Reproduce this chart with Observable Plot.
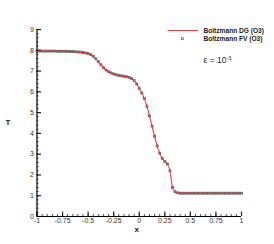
<!DOCTYPE html>
<html><head><meta charset="utf-8">
<script src="https://cdn.jsdelivr.net/npm/d3@7"></script>
<script src="https://cdn.jsdelivr.net/npm/@observablehq/plot@0.6"></script>
<style>body{margin:0;background:#fff;font-family:"Liberation Sans",Arial,sans-serif}</style>
</head><body><div id="chart"></div>
<script>
const xGrid = [-1,-0.975,-0.95,-0.925,-0.9,-0.875,-0.85,-0.825,-0.8,-0.775,-0.75,-0.725,-0.7,-0.675,-0.65,-0.625,-0.6,-0.575,-0.55,-0.525,-0.5,-0.475,-0.45,-0.425,-0.4,-0.375,-0.35,-0.325,-0.3,-0.275,-0.25,-0.225,-0.2,-0.175,-0.15,-0.125,-0.1,-0.075,-0.05,-0.025,0,0.025,0.05,0.075,0.1,0.125,0.15,0.175,0.2,0.225,0.25,0.275,0.3,0.325,0.35,0.375,0.4,0.425,0.45,0.475,0.5,0.525,0.55,0.575,0.6,0.625,0.65,0.675,0.7,0.725,0.75,0.775,0.8,0.825,0.85,0.875,0.9,0.925,0.95,0.975,1];
const tFV = [7.96,7.96,7.96,7.96,7.96,7.96,7.96,7.96,7.95,7.95,7.95,7.95,7.95,7.94,7.94,7.93,7.92,7.91,7.89,7.87,7.84,7.79,7.71,7.59,7.45,7.30,7.16,7.05,6.97,6.91,6.86,6.82,6.79,6.77,6.75,6.73,6.70,6.64,6.54,6.38,6.16,5.94,5.68,5.30,4.84,4.35,3.86,3.40,3.05,2.80,2.65,2.53,2.20,1.40,1.19,1.14,1.12,1.12,1.12,1.12,1.12,1.12,1.12,1.12,1.12,1.12,1.12,1.12,1.12,1.12,1.12,1.12,1.12,1.12,1.12,1.12,1.12,1.12,1.12,1.12,1.12];
const tDG = tFV.slice();
const xTicks = [-1,-0.75,-0.5,-0.25,0,0.25,0.5,0.75,1];
const xTickLabels = ["-1","-0.75","-0.5","-0.25","0","0.25","0.5","0.75","1"];
const yTicks = [0,1,2,3,4,5,6,7,8,9];
const xMinor = d3.range(-1, 1.0001, 0.05).map(v => +v.toFixed(3));
const yMinor = d3.range(0, 9.0001, 0.2).map(v => +v.toFixed(2));
const seriesNames = ["Boltzmann DG (O3)", "Boltzmann FV (O3)"];

const fv = xGrid.map((x, i) => ({x, t: tFV[i]}));
const dg = xGrid.map((x, i) => ({x, t: tDG[i]}));

const plot = Plot.plot({
  width: 274, height: 244,
  marginLeft: 36.5, marginRight: 33, marginTop: 29, marginBottom: 28,
  style: {fontFamily: "Liberation Sans, Arial, sans-serif", fontSize: "7px", color: "#222"},
  x: {domain: [-1, 1]},
  y: {domain: [0, 9]},
  marks: [
    Plot.axisX(xMinor, {tickSize: -2, text: null, label: null, strokeWidth: 0.8}),
    Plot.axisX(xTicks, {tickSize: -4.5, text: null, label: null, strokeWidth: 1.2}),
    Plot.axisX(xTicks, {tickSize: 0, tickPadding: 2, tickFormat: (d, i) => xTickLabels[i], label: null, fontSize: 7, fill: "#333"}),
    Plot.axisY(yMinor, {tickSize: -2, text: null, label: null, strokeWidth: 0.8}),
    Plot.axisY(yTicks, {tickSize: -4.5, text: null, label: null, strokeWidth: 1.2}),
    Plot.axisY(yTicks, {tickSize: 0, tickPadding: 3, label: null, fontSize: 7, fill: "#333"}),
    Plot.ruleX([-1], {stroke: "#000", strokeWidth: 1.2}),
    Plot.ruleY([0], {stroke: "#000", strokeWidth: 1.2}),
    Plot.dot(fv, {x: "x", y: "t", symbol: "square", r: 1.1, stroke: "#2a2a2a", strokeWidth: 0.7, fill: "none"}),
    Plot.line(dg, {x: "x", y: "t", stroke: "#e8262b", strokeWidth: 1, curve: "monotone-x"})
  ]
});

const svg = d3.select(plot);
const add = (x, y, size, weight, txt) => svg.append("text").attr("x", x).attr("y", y)
  .attr("text-anchor", "start").attr("font-size", size).attr("font-weight", weight).attr("fill", "#1a1a1a").text(txt);
// axis titles
add(134.5, 232, 8, "bold", "x");
add(5.5, 125, 8, "bold", "T");
// legend
svg.append("line").attr("x1", 167.5).attr("x2", 198).attr("y1", 30.5).attr("y2", 30.5)
  .attr("stroke", "#e8262b").attr("stroke-width", 0.9);
svg.append("rect").attr("x", 181.3).attr("y", 37.7).attr("width", 2).attr("height", 2)
  .attr("fill", "none").attr("stroke", "#444").attr("stroke-width", 0.6);
add(203.5, 32.6, 6.6, "bold", seriesNames[0]);
add(203.5, 41.1, 6.6, "bold", seriesNames[1]);
const eps = add(203.5, 63, 8.5, "normal", "ε = 10");
eps.append("tspan").attr("dy", -3.5).attr("font-size", 5.5).text("-3");

document.getElementById("chart").appendChild(plot);
</script></body></html>
